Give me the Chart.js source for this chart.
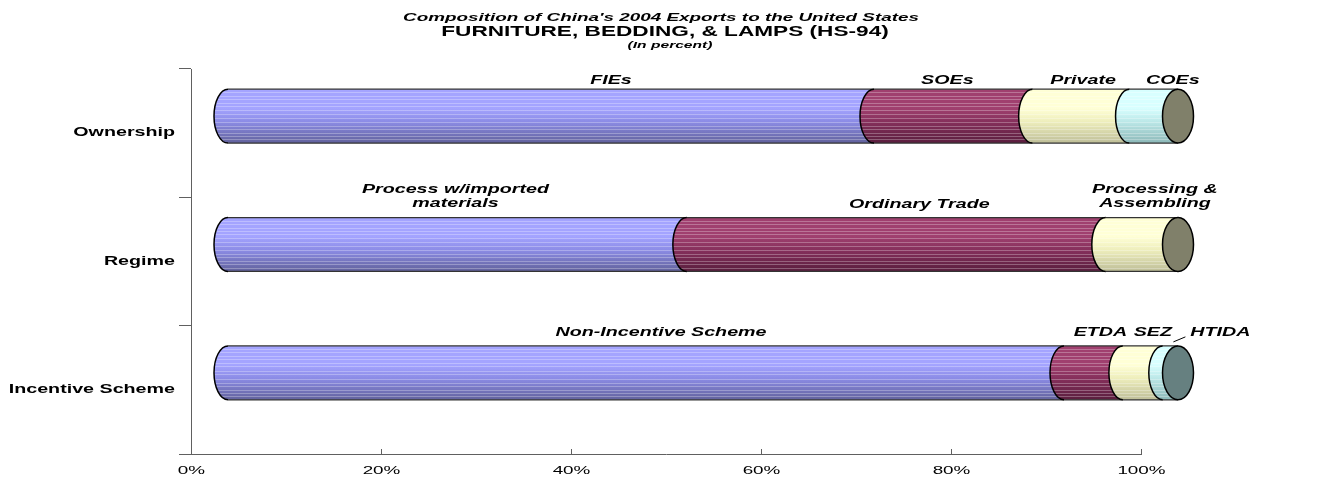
<!DOCTYPE html>
<html>
<head>
<meta charset="utf-8">
<script src="https://cdn.jsdelivr.net/npm/chart.js@4/dist/chart.umd.min.js"></script>
<style>
  html, body { margin: 0; padding: 0; background: #fff; }
  #wrap { width: 1341px; height: 479px; }
</style>
</head>
<body>
<div id="wrap"><canvas id="exportsChart" width="1341" height="479"></canvas></div>
<script>
// shares of China's 2004 furniture/bedding/lamps exports to the US, in percent
const categories = ['Ownership', 'Regime', 'Incentive Scheme'];
const ownershipNames = ['FIEs', 'SOEs', 'Private', 'COEs'];
const regimeNames = ['Process w/imported\nmaterials', 'Ordinary Trade', 'Processing &\nAssembling'];
const incentiveNames = ['Non-Incentive Scheme', 'ETDA', 'SEZ', 'HTIDA'];
const ownershipShares = [68.0, 16.7, 10.2, 5.1];
const regimeShares = [48.3, 44.1, 7.6];
const incentiveShares = [88.0, 6.2, 4.2, 1.6];
const xTicks = [0, 20, 40, 60, 80, 100];

const rowNames = [ownershipNames, regimeNames, incentiveNames];
const rowShares = [ownershipShares, regimeShares, incentiveShares];

// look of the cylinders
const SX = 1.64;             // text is drawn horizontally stretched
const DEPTH_X = 37, DEPTH_Y = -17;
const RX = 14;
const shades = [
    ['#a4a4ff', '#8c8ce6', '#62629c'],
    ['#a0406f', '#86305c', '#5a1e3e'],
    ['#ffffd6', '#eeeebc', '#bebe98'],
    ['#d8ffff', '#bce8e8', '#8cb8b8']
];
const capColors = ['#80806a', '#80806a', '#668080'];
const stripes = [0.06, 0.12, 0.19, 0.25, 0.31, 0.38, 0.46, 0.53, 0.61, 0.68, 0.74, 0.81, 0.87, 0.93];
const labelNudge = [
    [[60, -9], [-6, -9], [2, -9], [19, -9]],
    [[-2, -14], [23, -13], [13, -14]],
    [[15, -13], [7, -13], [10, -13], [50, -13]]
];

const maxSegs = Math.max(...rowShares.map(r => r.length));
const datasets = [];
for (let k = 0; k < maxSegs; k++) {
    datasets.push({
        label: 'seg' + k,
        data: rowShares.map(r => r[k] ?? null),
        backgroundColor: 'rgba(0,0,0,0)',
        borderWidth: 0,
        barPercentage: 0.42,
        categoryPercentage: 1
    });
}

function txt(ctx, s, x, y, font, align) {
    ctx.save();
    ctx.translate(x, y);
    ctx.scale(SX, 1);
    ctx.font = font;
    ctx.fillStyle = '#000';
    ctx.textAlign = align;
    ctx.textBaseline = 'middle';
    ctx.fillText(s, 0, 0);
    ctx.restore();
}

function bodyPath(ctx, x0, x1, cy, ry) {
    ctx.beginPath();
    ctx.moveTo(x1, cy - ry);
    ctx.lineTo(x0, cy - ry);
    ctx.ellipse(x0, cy, RX, ry, 0, -Math.PI / 2, Math.PI / 2, true);
    ctx.lineTo(x1, cy + ry);
    ctx.closePath();
}

const cylinders = {
    id: 'cylinders',
    afterDatasetsDraw(chart) {
        const ctx = chart.ctx;
        categories.forEach((cat, i) => {
            const n = rowShares[i].length;
            for (let k = 0; k < n; k++) {
                const el = chart.getDatasetMeta(k).data[i];
                const p = el.getProps(['x', 'y', 'base', 'height'], true);
                const x0 = Math.min(p.x, p.base) + DEPTH_X;
                const x1 = Math.max(p.x, p.base) + DEPTH_X;
                const cy = p.y + DEPTH_Y;
                const ry = p.height / 2;
                const sh = shades[k];

                ctx.save();
                const g = ctx.createLinearGradient(0, cy - ry, 0, cy + ry);
                g.addColorStop(0, sh[0]);
                g.addColorStop(0.35, sh[0]);
                g.addColorStop(0.6, sh[1]);
                g.addColorStop(1, sh[2]);
                bodyPath(ctx, x0, x1, cy, ry);
                ctx.fillStyle = g;
                ctx.fill();
                ctx.clip();
                ctx.strokeStyle = 'rgba(255,255,255,0.28)';
                ctx.lineWidth = 1;
                stripes.forEach(f => {
                    const yy = Math.round(cy - ry + f * 2 * ry) + 0.5;
                    ctx.beginPath();
                    ctx.moveTo(x0 - RX, yy);
                    ctx.lineTo(x1, yy);
                    ctx.stroke();
                });
                ctx.restore();

                // outline: left arc, top and bottom edges
                ctx.save();
                ctx.strokeStyle = '#000';
                ctx.lineWidth = 1.5;
                ctx.beginPath();
                ctx.ellipse(x0, cy, RX, ry, 0, -Math.PI / 2, Math.PI / 2, true);
                ctx.stroke();
                ctx.lineWidth = 1.2;
                ctx.strokeStyle = '#333';
                ctx.beginPath();
                ctx.moveTo(x0, cy - ry); ctx.lineTo(x1, cy - ry);
                ctx.moveTo(x0, cy + ry); ctx.lineTo(x1, cy + ry);
                ctx.stroke();
                ctx.restore();

                if (k === n - 1) {
                    ctx.save();
                    ctx.beginPath();
                    ctx.ellipse(x1, cy, RX + 1.5, ry, 0, 0, Math.PI * 2);
                    ctx.fillStyle = capColors[i];
                    ctx.fill();
                    ctx.strokeStyle = '#000';
                    ctx.lineWidth = 1.5;
                    ctx.stroke();
                    ctx.restore();
                }

                // segment label above the cylinder
                const lines = rowNames[i][k].split('\n');
                const lx = (x0 + x1) / 2 + labelNudge[i][k][0];
                const ly = cy - ry + labelNudge[i][k][1];
                lines.forEach((ln, j) => {
                    txt(ctx, ln, lx, ly - (lines.length - 1 - j) * 14, 'italic bold 12px "Liberation Sans", Arial, sans-serif', 'center');
                });
                if (rowNames[i][k] === 'HTIDA') {
                    ctx.save();
                    ctx.strokeStyle = '#000';
                    ctx.lineWidth = 1;
                    ctx.beginPath();
                    ctx.moveTo(lx - 47, ly + 9);
                    ctx.lineTo(lx - 35, ly + 4);
                    ctx.stroke();
                    ctx.restore();
                }
            }
        });
    },
    afterDraw(chart) {
        const ctx = chart.ctx;
        const xs = chart.scales.x, ys = chart.scales.y;
        const cx = 665;
        txt(ctx, "Composition of China's 2004 Exports to the United States", cx - 4, 18, 'italic bold 11.5px "Liberation Sans", Arial, sans-serif', 'center');
        txt(ctx, 'FURNITURE, BEDDING, & LAMPS (HS-94)', cx, 32.5, 'bold 13.8px "Liberation Sans", Arial, sans-serif', 'center');
        txt(ctx, '(In percent)', cx + 5, 45.5, 'italic bold 9.5px "Liberation Sans", Arial, sans-serif', 'center');

        categories.forEach((c, i) => {
            txt(ctx, c, ys.right - 16, ys.getPixelForValue(i), 'bold 12px "Liberation Sans", Arial, sans-serif', 'right');
        });

        ctx.save();
        ctx.strokeStyle = '#606060';
        ctx.lineWidth = 1;
        xTicks.forEach(v => {
            const px = Math.round(xs.getPixelForValue(v)) + 0.5;
            ctx.beginPath();
            ctx.moveTo(px, xs.top - 5);
            ctx.lineTo(px, xs.top);
            ctx.stroke();
            txt(ctx, v + '%', px, xs.top + 17, '11.5px "Liberation Sans", Arial, sans-serif', 'center');
        });
        ctx.restore();
    }
};

new Chart(document.getElementById('exportsChart'), {
    type: 'bar',
    data: { labels: categories, datasets: datasets },
    options: {
        indexAxis: 'y',
        responsive: false,
        animation: false,
        layout: { padding: { top: 69, right: 200, left: 0, bottom: 0 } },
        plugins: { legend: { display: false }, tooltip: { enabled: false }, title: { display: false } },
        scales: {
            x: {
                stacked: true,
                min: 0, max: 100,
                ticks: { display: false, stepSize: 20 },
                grid: { display: false, drawTicks: false },
                border: { display: true, color: '#606060', width: 1 },
                afterFit: s => { s.height = 25; }
            },
            y: {
                stacked: true,
                ticks: { display: false },
                grid: { offset: true, drawOnChartArea: false, drawTicks: true, tickLength: 12, color: '#606060' },
                border: { display: true, color: '#606060', width: 1 },
                afterFit: s => { s.width = 191; }
            }
        }
    },
    plugins: [cylinders]
});
</script>
</body>
</html>
